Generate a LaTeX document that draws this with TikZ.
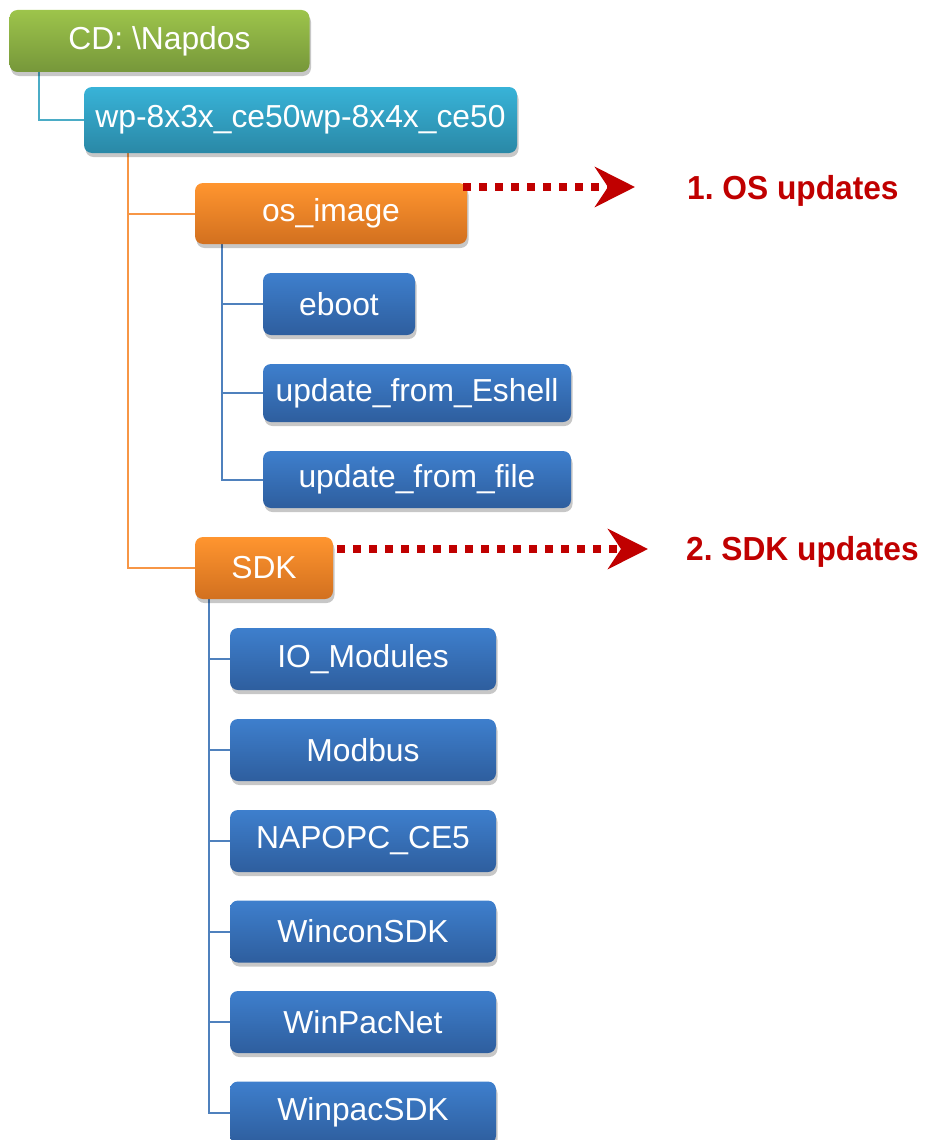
\documentclass[tikz,border=0pt]{standalone}
\usepackage{fontspec}
\setmainfont{Liberation Sans}
\frenchspacing
\usetikzlibrary{shadows,backgrounds,arrows.meta}
\definecolor{gtop}{HTML}{9DC44B}
\definecolor{gbot}{HTML}{76973A}
\definecolor{ttop}{HTML}{38B3D8}
\definecolor{tbot}{HTML}{2A88A6}
\definecolor{otop}{HTML}{FF952F}
\definecolor{obot}{HTML}{D2701F}
\definecolor{btop}{HTML}{3E7FCD}
\definecolor{bbot}{HTML}{2E5E9E}
\definecolor{lteal}{HTML}{4BACC6}
\definecolor{lorange}{HTML}{F79646}
\definecolor{lblue}{HTML}{4F81BD}
\definecolor{dred}{HTML}{C00000}
\tikzset{
  box/.style={rectangle, rounded corners=8pt, inner sep=0pt, text=white,
    font=\fontsize{31.8}{36}\selectfont,
    drop shadow={shadow xshift=1.5pt, shadow yshift=-4pt, opacity=0.22, fill=black}},
  greenbox/.style={box, top color=gtop, bottom color=gbot},
  tealbox/.style={box, top color=ttop, bottom color=tbot},
  orangebox/.style={box, top color=otop, bottom color=obot},
  bluebox/.style={box, top color=btop, bottom color=bbot},
  tline/.style={draw=lteal, line width=2pt},
  oline/.style={draw=lorange, line width=2pt},
  bline/.style={draw=lblue, line width=2pt},
  dotarrow/.style={draw=dred, line width=7.5pt, dash pattern=on 7.5pt off 8.5pt,
    -{Stealth[length=40pt, width=40pt, inset=13pt, fill=dred]}},
  redlabel/.style={text=dred, font=\fontsize{31.7}{38}\selectfont\bfseries, inner sep=0pt, anchor=base west, yscale=1.05}
}
\begin{document}
\begin{tikzpicture}[x=1pt,y=-1pt]
\useasboundingbox (0,0) rectangle (924,1140);
\node[greenbox, minimum width=300pt, minimum height=62pt] (cd) at (159.5,41) {CD: \textbackslash Napdos};
\node[tealbox, minimum width=433pt, minimum height=66pt] (wp) at (300.5,120) {wp-8x3x\_ce50wp-8x4x\_ce50};
\node[orangebox, minimum width=272pt, minimum height=61pt] (os) at (331,213.5) {os\_image};
\node[bluebox, minimum width=152pt, minimum height=62pt] (eboot) at (339,304) {eboot};
\node[bluebox, minimum width=308pt, minimum height=58pt] (esh) at (417,393) {update\_from\_Eshell};
\node[bluebox, minimum width=308pt, minimum height=57pt] (ufile) at (417,479.5) {update\_from\_file};
\node[orangebox, minimum width=138pt, minimum height=62pt] (sdk) at (264,568) {SDK};
\node[bluebox, minimum width=266pt, minimum height=62pt] (io) at (363,659) {IO\_Modules};
\node[bluebox, minimum width=266pt, minimum height=62pt] (mod) at (363,750) {Modbus};
\node[bluebox, minimum width=266pt, minimum height=62pt] (nap) at (363,841) {NAPOPC\_CE5};
\node[bluebox, minimum width=266pt, minimum height=62pt] (wcon) at (363,931.5) {WinconSDK};
\node[bluebox, minimum width=266pt, minimum height=62pt] (wnet) at (363,1022) {WinPacNet};
\node[bluebox, minimum width=266pt, minimum height=62pt] (wsdk) at (363,1112.5) {WinpacSDK};
\node[redlabel] (l1) at (687,199) {1. OS updates};
\node[redlabel] (l2) at (686,560) {2. SDK updates};
\coordinate (a1s) at (463,187);
\coordinate (a1e) at (635,187);
\coordinate (a2s) at (337,549);
\coordinate (a2e) at (648,549);
\draw[dotarrow] (a1s) -- (a1e);
\draw[dotarrow] (a2s) -- (a2e);
\begin{scope}[on background layer]
\draw[tline] (cd.south -| 39,0) |- (wp.west);
\draw[oline] (wp.south -| 128,0) |- (os.west);
\draw[oline] (wp.south -| 128,0) |- (sdk.west);
\draw[bline] (os.south -| 222,0) |- (eboot.west);
\draw[bline] (os.south -| 222,0) |- (esh.west);
\draw[bline] (os.south -| 222,0) |- (ufile.west);
\foreach \n in {io,mod,nap,wcon,wnet,wsdk}
  \draw[bline] (sdk.south -| 209,0) |- (\n.west);
\end{scope}
\end{tikzpicture}
\end{document}
